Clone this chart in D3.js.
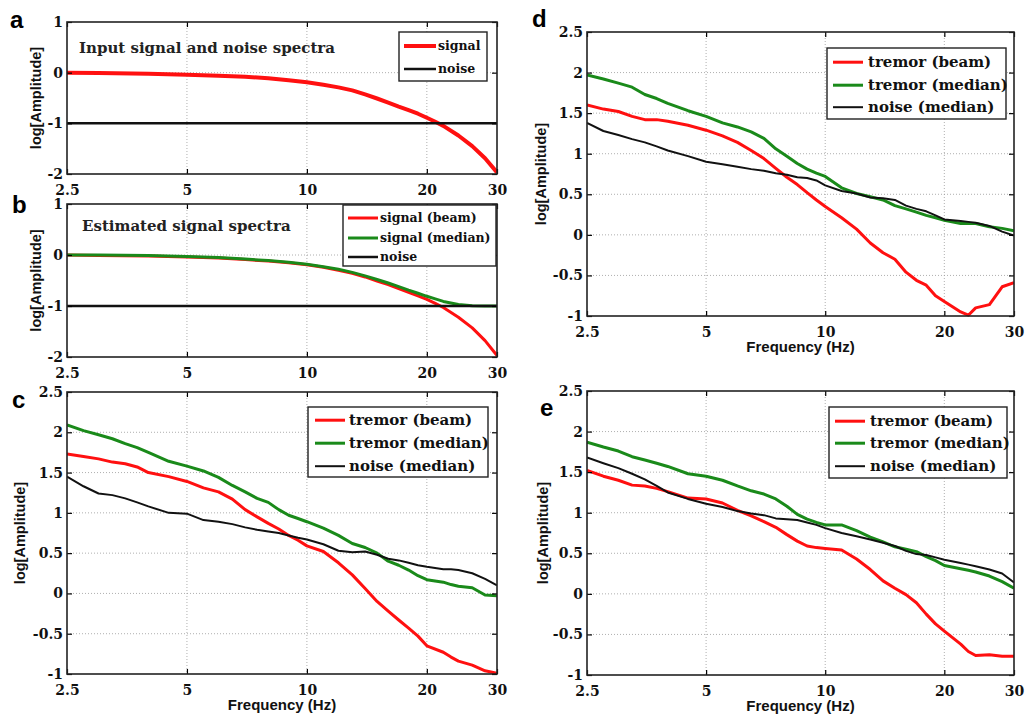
<!DOCTYPE html>
<html><head><meta charset="utf-8">
<script src="https://cdn.jsdelivr.net/npm/d3@7"></script>
<style>
html,body{margin:0;padding:0;background:#fff;}
svg{display:block;}
</style></head>
<body>
<svg id="chart" width="1027" height="714"></svg>
<script>
// ---------- DATA ----------
const xTicks = [2.5, 5, 10, 20, 30];
const yTicksAB = [-2, -1, 0, 1];
const yTicksCDE = [-1, -0.5, 0, 0.5, 1, 1.5, 2, 2.5];

// panels a, b
const freqAB = [2.5, 3, 4, 5, 6, 7, 8, 9, 10, 11, 12, 13, 14, 15, 16, 17, 18, 19, 20, 21, 22, 24, 26, 28, 30];
const signalA = [0, -0.005, -0.02, -0.04, -0.06, -0.08, -0.11, -0.15, -0.19, -0.24, -0.29, -0.35, -0.43, -0.51, -0.59, -0.67, -0.74, -0.81, -0.89, -0.97, -1.05, -1.24, -1.45, -1.69, -1.97];
const noiseFreq = [2.5, 30];
const noiseA = [-1, -1];
const signalBeamB = [0, -0.01, -0.02, -0.04, -0.06, -0.09, -0.12, -0.15, -0.19, -0.24, -0.30, -0.36, -0.43, -0.51, -0.58, -0.66, -0.73, -0.80, -0.87, -0.95, -1.03, -1.22, -1.43, -1.68, -1.97];
const signalMedianB = [0, 0, -0.01, -0.03, -0.05, -0.08, -0.11, -0.14, -0.18, -0.23, -0.28, -0.34, -0.41, -0.48, -0.55, -0.62, -0.69, -0.75, -0.81, -0.86, -0.91, -0.97, -0.995, -1.0, -1.0];
const noiseB = [-1, -1];

// panels c, d, e
const freqCDE = [2.5, 2.75, 3, 3.25, 3.5, 3.75, 4, 4.5, 5, 5.5, 6, 6.5, 7, 7.5, 8, 8.5, 9, 9.5, 10, 11, 12, 13, 14, 15, 16, 17, 18, 19, 20, 22, 23, 24, 26, 28, 30];
const beamC   = [1.73, 1.70, 1.67, 1.63, 1.61, 1.57, 1.50, 1.45, 1.39, 1.31, 1.26, 1.17, 1.04, 0.95, 0.87, 0.80, 0.72, 0.66, 0.59, 0.52, 0.38, 0.23, 0.06, -0.10, -0.22, -0.33, -0.43, -0.53, -0.65, -0.73, -0.79, -0.84, -0.89, -0.96, -0.99];
const medianC = [2.09, 2.02, 1.97, 1.92, 1.86, 1.81, 1.75, 1.64, 1.58, 1.52, 1.44, 1.34, 1.26, 1.18, 1.13, 1.04, 0.97, 0.93, 0.89, 0.81, 0.72, 0.62, 0.57, 0.50, 0.40, 0.35, 0.29, 0.22, 0.17, 0.14, 0.11, 0.09, 0.07, -0.02, -0.03];
const noiseC  = [1.45, 1.33, 1.24, 1.22, 1.18, 1.13, 1.08, 1.00, 0.99, 0.91, 0.89, 0.86, 0.82, 0.79, 0.77, 0.75, 0.72, 0.69, 0.67, 0.61, 0.53, 0.51, 0.52, 0.48, 0.43, 0.41, 0.38, 0.35, 0.33, 0.30, 0.30, 0.29, 0.25, 0.18, 0.10];

const beamD   = [1.60, 1.55, 1.52, 1.46, 1.42, 1.42, 1.40, 1.35, 1.29, 1.22, 1.14, 1.04, 0.94, 0.82, 0.71, 0.62, 0.52, 0.43, 0.35, 0.21, 0.07, -0.10, -0.22, -0.30, -0.46, -0.56, -0.62, -0.75, -0.82, -0.95, -0.99, -0.90, -0.86, -0.64, -0.59];
const medianD = [1.97, 1.92, 1.87, 1.82, 1.73, 1.68, 1.62, 1.53, 1.46, 1.38, 1.33, 1.27, 1.19, 1.06, 0.97, 0.88, 0.81, 0.76, 0.72, 0.58, 0.51, 0.47, 0.43, 0.36, 0.32, 0.28, 0.24, 0.21, 0.18, 0.14, 0.14, 0.14, 0.10, 0.08, 0.05];
const noiseD  = [1.38, 1.28, 1.23, 1.18, 1.14, 1.09, 1.04, 0.97, 0.90, 0.87, 0.84, 0.81, 0.79, 0.76, 0.74, 0.71, 0.70, 0.67, 0.61, 0.54, 0.51, 0.46, 0.45, 0.43, 0.36, 0.32, 0.29, 0.24, 0.19, 0.17, 0.16, 0.15, 0.11, 0.04, -0.01];

const beamE   = [1.52, 1.45, 1.40, 1.34, 1.33, 1.30, 1.26, 1.18, 1.17, 1.12, 1.03, 0.96, 0.89, 0.82, 0.73, 0.65, 0.59, 0.57, 0.56, 0.54, 0.43, 0.30, 0.16, 0.07, -0.01, -0.11, -0.25, -0.37, -0.46, -0.62, -0.71, -0.76, -0.75, -0.77, -0.77];
const medianE = [1.87, 1.81, 1.76, 1.69, 1.65, 1.61, 1.57, 1.48, 1.45, 1.40, 1.33, 1.27, 1.23, 1.17, 1.08, 0.98, 0.92, 0.88, 0.85, 0.85, 0.78, 0.70, 0.64, 0.58, 0.55, 0.52, 0.46, 0.41, 0.35, 0.31, 0.29, 0.27, 0.22, 0.15, 0.07];
const noiseE  = [1.68, 1.61, 1.55, 1.48, 1.41, 1.33, 1.25, 1.17, 1.11, 1.07, 1.02, 0.99, 0.97, 0.93, 0.92, 0.91, 0.88, 0.85, 0.81, 0.75, 0.71, 0.67, 0.63, 0.59, 0.53, 0.49, 0.48, 0.45, 0.42, 0.38, 0.36, 0.34, 0.30, 0.25, 0.14];

// ---------- STYLE / LAYOUT ----------
const RED = "#ff1010", GREEN = "#1a8a1a", BLACK = "#111";
const tickFont = "'DejaVu Serif', serif";
const sansFont = "'Liberation Sans', Arial, sans-serif";

const panels = [
  { letter: "a", lx: 10, ly: 28, box: [67, 22, 497, 174], yDomain: [-2, 1], yTicks: yTicksAB, ylabX: 36, xlabel: false,
    title: "Input signal and noise spectra", tx: 79, ty: 53,
    series: [
      { name: "signal", f: freqAB, v: signalA, color: RED, w: 4 },
      { name: "noise", f: noiseFreq, v: noiseA, color: BLACK, w: 2.5 }],
    legend: { box: [399, 32, 487, 81], lx0: 404, lx1: 436, tx: 438, rows: [50, 73], fs: 12.5 } },
  { letter: "b", lx: 12, ly: 213, box: [67, 204, 497, 357], yDomain: [-2, 1], yTicks: yTicksAB, ylabX: 36, xlabel: false,
    title: "Estimated signal spectra", tx: 82, ty: 231,
    series: [
      { name: "signal (beam)", f: freqAB, v: signalBeamB, color: RED, w: 3 },
      { name: "signal (median)", f: freqAB, v: signalMedianB, color: GREEN, w: 3 },
      { name: "noise", f: noiseFreq, v: noiseB, color: BLACK, w: 2.5 }],
    legend: { box: [343, 205, 496, 266], lx0: 348, lx1: 378, tx: 380, rows: [222, 242, 261], fs: 12.5 } },
  { letter: "c", lx: 12, ly: 408, box: [67, 392, 497, 674], yDomain: [-1, 2.5], yTicks: yTicksCDE, ylabX: 20, xlabel: true,
    series: [
      { name: "tremor (beam)", f: freqCDE, v: beamC, color: RED, w: 3 },
      { name: "tremor (median)", f: freqCDE, v: medianC, color: GREEN, w: 3 },
      { name: "noise (median)", f: freqCDE, v: noiseC, color: BLACK, w: 2 }],
    legend: { box: [308, 407, 488, 477], lx0: 315, lx1: 345, tx: 349, rows: [425, 448, 471], fs: 15 } },
  { letter: "d", lx: 532, ly: 27, box: [587, 32, 1014, 316], yDomain: [-1, 2.5], yTicks: yTicksCDE, ylabX: 541, xlabel: true,
    series: [
      { name: "tremor (beam)", f: freqCDE, v: beamD, color: RED, w: 3 },
      { name: "tremor (median)", f: freqCDE, v: medianD, color: GREEN, w: 3 },
      { name: "noise (median)", f: freqCDE, v: noiseD, color: BLACK, w: 2 }],
    legend: { box: [827, 48, 1006, 119], lx0: 833, lx1: 863, tx: 868, rows: [67, 90, 112], fs: 15 } },
  { letter: "e", lx: 540, ly: 416, box: [587, 391, 1014, 675], yDomain: [-1, 2.5], yTicks: yTicksCDE, ylabX: 543, xlabel: true,
    series: [
      { name: "tremor (beam)", f: freqCDE, v: beamE, color: RED, w: 3 },
      { name: "tremor (median)", f: freqCDE, v: medianE, color: GREEN, w: 3 },
      { name: "noise (median)", f: freqCDE, v: noiseE, color: BLACK, w: 2 }],
    legend: { box: [829, 407, 1007, 478], lx0: 835, lx1: 865, tx: 870, rows: [426, 448, 471], fs: 15 } }
];

const svg = d3.select("#chart");
const fmt = v => String(v);

panels.forEach((p, i) => {
  const [x0, y0, x1, y1] = p.box;
  const x = d3.scaleLog().domain([2.5, 30]).range([x0, x1]);
  const y = d3.scaleLinear().domain(p.yDomain).range([y1, y0]);
  const g = svg.append("g");

  // grid
  g.append("g").selectAll("line").data(xTicks.slice(1, -1)).join("line")
    .attr("x1", d => x(d)).attr("x2", d => x(d)).attr("y1", y0).attr("y2", y1)
    .attr("stroke", "#9a9a9a").attr("stroke-width", 0.8).attr("stroke-dasharray", "1,2");
  g.append("g").selectAll("line").data(p.yTicks.slice(1, -1)).join("line")
    .attr("x1", x0).attr("x2", x1).attr("y1", d => y(d)).attr("y2", d => y(d))
    .attr("stroke", "#9a9a9a").attr("stroke-width", 0.8).attr("stroke-dasharray", "1,2");

  // clip
  const cid = "clip" + i;
  svg.append("clipPath").attr("id", cid).append("rect")
    .attr("x", x0).attr("y", y0 - 1).attr("width", x1 - x0).attr("height", y1 - y0 + 2);

  const line = d3.line().x(d => x(d[0])).y(d => y(d[1]));
  const lg = g.append("g").attr("clip-path", `url(#${cid})`);
  p.series.forEach(s => {
    lg.append("path").datum(s.f.map((f, k) => [f, s.v[k]]))
      .attr("d", line).attr("fill", "none").attr("stroke", s.color)
      .attr("stroke-width", s.w).attr("stroke-linejoin", "round");
  });

  // axes (inward ticks)
  const styleAxis = sel => {
    sel.select(".domain").remove();
    sel.selectAll(".tick line").attr("stroke", "#000").attr("stroke-width", 1.2);
    sel.selectAll(".tick text").attr("font-family", tickFont).attr("font-weight", "bold")
      .attr("font-size", 14).attr("fill", "#111");
  };
  g.append("g").attr("transform", `translate(0,${y1})`)
    .call(d3.axisBottom(x).tickValues(xTicks).tickFormat(fmt).tickSize(-5).tickPadding(11)).call(styleAxis);
  g.append("g").attr("transform", `translate(0,${y0})`)
    .call(d3.axisTop(x).tickValues(xTicks).tickFormat("").tickSize(-5)).call(styleAxis);
  g.append("g").attr("transform", `translate(${x0},0)`)
    .call(d3.axisLeft(y).tickValues(p.yTicks).tickFormat(fmt).tickSize(-5).tickPadding(4)).call(styleAxis);
  g.append("g").attr("transform", `translate(${x1},0)`)
    .call(d3.axisRight(y).tickValues(p.yTicks).tickFormat("").tickSize(-5)).call(styleAxis);

  g.append("rect").attr("x", x0).attr("y", y0).attr("width", x1 - x0).attr("height", y1 - y0)
    .attr("fill", "none").attr("stroke", "#222").attr("stroke-width", 1.6);

  // labels
  g.append("text").attr("transform", `translate(${p.ylabX},${(y0 + y1) / 2}) rotate(-90)`)
    .attr("dy", "0.35em").attr("text-anchor", "middle")
    .attr("font-family", sansFont).attr("font-weight", "bold").attr("font-size", 14.5).attr("fill", "#111")
    .text("log[Amplitude]");
  if (p.xlabel) {
    g.append("text").attr("x", (x0 + x1) / 2).attr("y", y1 + 36).attr("text-anchor", "middle")
      .attr("font-family", sansFont).attr("font-weight", "bold").attr("font-size", 15).attr("fill", "#111")
      .text("Frequency (Hz)");
  }
  g.append("text").attr("x", p.lx).attr("y", p.ly)
    .attr("font-family", sansFont).attr("font-weight", "bold").attr("font-size", 24).attr("fill", "#000")
    .text(p.letter);
  if (p.title) {
    g.append("text").attr("x", p.tx).attr("y", p.ty)
      .attr("font-family", tickFont).attr("font-weight", "bold").attr("font-size", 15).attr("fill", "#222")
      .text(p.title);
  }

  // legend
  const L = p.legend;
  const lgd = g.append("g");
  lgd.append("rect").attr("x", L.box[0]).attr("y", L.box[1])
    .attr("width", L.box[2] - L.box[0]).attr("height", L.box[3] - L.box[1])
    .attr("fill", "#fff").attr("stroke", "#222").attr("stroke-width", 1.4);
  p.series.forEach((s, k) => {
    const ry = L.rows[k];
    lgd.append("line").attr("x1", L.lx0).attr("x2", L.lx1)
      .attr("y1", ry - L.fs * 0.32).attr("y2", ry - L.fs * 0.32)
      .attr("stroke", s.color).attr("stroke-width", s.w);
    lgd.append("text").attr("x", L.tx).attr("y", ry)
      .attr("font-family", tickFont).attr("font-weight", "bold").attr("font-size", L.fs).attr("fill", "#111")
      .text(s.name);
  });
});
</script>
</body></html>
